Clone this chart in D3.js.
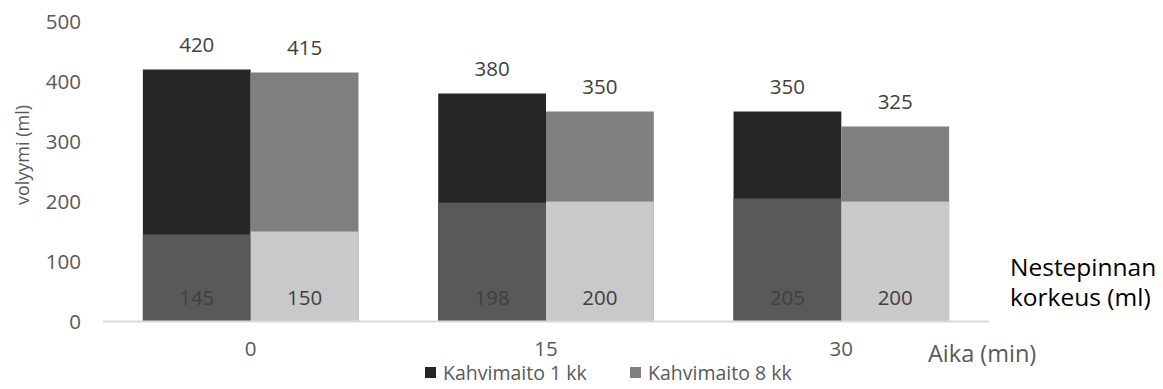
<!DOCTYPE html>
<html>
<head>
<meta charset="utf-8">
<script src="https://cdnjs.cloudflare.com/ajax/libs/d3/7.8.5/d3.min.js"></script>
<style>
  body { margin: 0; background: #fff; }
  text { font-family: "Open Sans", sans-serif; }
</style>
</head>
<body>
<div id="chart"></div>
<script>
// data
var categories = ["0", "15", "30"];
var series = ["Kahvimaito 1 kk", "Kahvimaito 8 kk"];
var total1kk = [420, 380, 350];
var total8kk = [415, 350, 325];
var level1kk = [145, 198, 205];   // nestepinnan korkeus
var level8kk = [150, 200, 200];
var yTicks = [0, 100, 200, 300, 400, 500];

var width = 1163, height = 389;

var svg = d3.select("#chart").append("svg")
  .attr("width", width)
  .attr("height", height);

var x0 = d3.scaleBand().domain(categories).range([103, 989])
  .paddingInner(0.27).paddingOuter(0.135);
var x1 = d3.scaleBand().domain(series).range([0, x0.bandwidth()]);
var y = d3.scaleLinear().domain([0, 500]).range([321.5, 21.5]);

// y tick labels (no axis line in the original)
var yAxis = d3.axisLeft(y).tickValues(yTicks).tickSize(0).tickPadding(0);
var gy = svg.append("g").attr("transform", "translate(81,0)").call(yAxis);
gy.select(".domain").remove();
gy.selectAll("text").attr("fill", "#595959").style("font-size", "20.5px")
  .attr("font-family", null);

// rows: one per category/series
var rows = [];
categories.forEach(function(c, i) {
  rows.push({cat: c, s: series[0], total: total1kk[i], level: level1kk[i], top: "#262626", bottom: "#595959"});
  rows.push({cat: c, s: series[1], total: total8kk[i], level: level8kk[i], top: "#7f7f7f", bottom: "#c9c9c9"});
});

var bars = svg.append("g");
bars.selectAll("rect.total").data(rows).enter().append("rect")
  .attr("class", "total")
  .attr("x", function(d) { return x0(d.cat) + x1(d.s); })
  .attr("width", x1.bandwidth())
  .attr("y", function(d) { return y(d.total); })
  .attr("height", function(d) { return y(0) - y(d.total); })
  .attr("fill", function(d) { return d.top; });

bars.selectAll("rect.level").data(rows).enter().append("rect")
  .attr("class", "level")
  .attr("x", function(d) { return x0(d.cat) + x1(d.s); })
  .attr("width", x1.bandwidth())
  .attr("y", function(d) { return y(d.level); })
  .attr("height", function(d) { return y(0) - y(d.level); })
  .attr("fill", function(d) { return d.bottom; });

// labels
bars.selectAll("text.tl").data(rows).enter().append("text")
  .attr("x", function(d) { return x0(d.cat) + x1(d.s) + x1.bandwidth() / 2; })
  .attr("y", function(d) { return y(d.total) - 18; })
  .attr("text-anchor", "middle")
  .attr("fill", "#404040")
  .style("font-size", "20.5px")
  .text(function(d) { return d.total; });

bars.selectAll("text.bl").data(rows).enter().append("text")
  .attr("x", function(d) { return x0(d.cat) + x1(d.s) + x1.bandwidth() / 2; })
  .attr("y", 304.5)
  .attr("text-anchor", "middle")
  .attr("fill", "#404040")
  .style("font-size", "20.5px")
  .text(function(d) { return d.level; });

// x axis
var xAxis = d3.axisBottom(x0).tickSize(0).tickPadding(20);
var gx = svg.append("g").attr("transform", "translate(0," + y(0) + ")").call(xAxis);
gx.select(".domain").attr("stroke", "#d9d9d9").attr("stroke-width", 2)
  .attr("d", "M103,0H989");
gx.selectAll("text").attr("fill", "#595959").style("font-size", "20.5px")
  .attr("font-family", null);

// axis titles
svg.append("text")
  .attr("transform", "translate(29,155) rotate(-90)")
  .attr("text-anchor", "middle")
  .attr("fill", "#595959")
  .style("font-size", "18px")
  .text("volyymi (ml)");

svg.append("text")
  .attr("x", 928).attr("y", 362)
  .attr("fill", "#595959")
  .style("font-size", "23.5px")
  .text("Aika (min)");

var side = svg.append("text")
  .attr("x", 1010).attr("y", 276)
  .attr("fill", "#000")
  .style("font-size", "24.5px");
side.append("tspan").attr("x", 1010).text("Nestepinnan");
side.append("tspan").attr("x", 1010).attr("dy", 30).text("korkeus (ml)");

// legend
var legend = svg.append("g");
var legX = [425, 630];
var legCol = ["#262626", "#7f7f7f"];
series.forEach(function(s, i) {
  legend.append("rect")
    .attr("x", legX[i]).attr("y", 367)
    .attr("width", 11).attr("height", 11)
    .attr("fill", legCol[i]);
  legend.append("text")
    .attr("x", legX[i] + 18).attr("y", 380)
    .attr("fill", "#595959")
    .style("font-size", "19.5px")
    .text(s);
});
</script>
</body>
</html>
